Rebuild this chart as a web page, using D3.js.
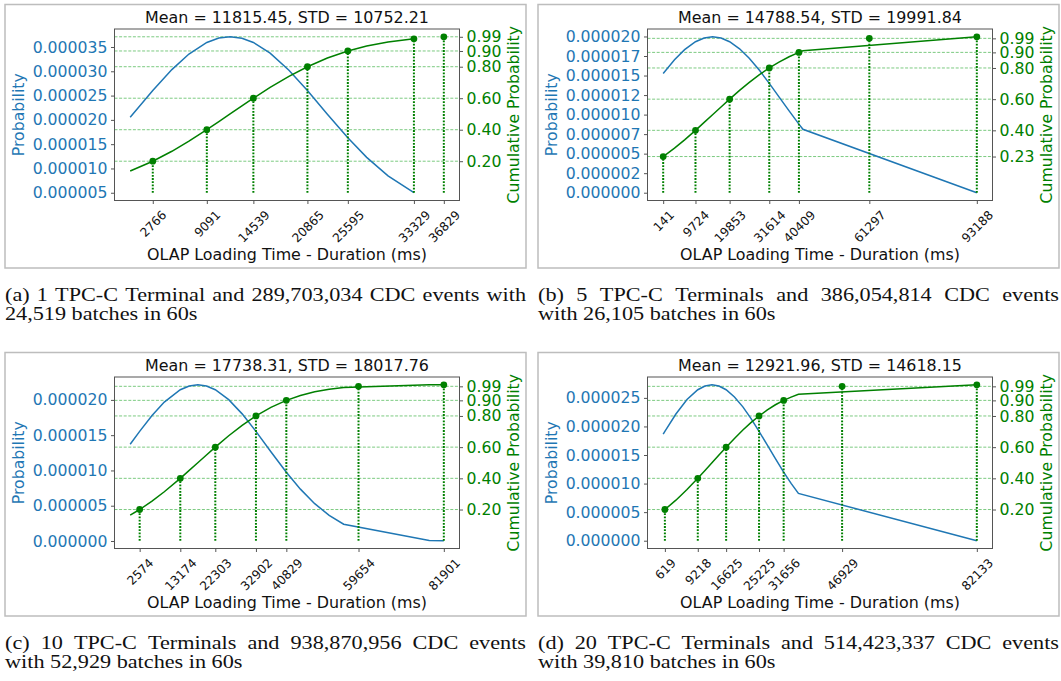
<!DOCTYPE html>
<html>
<head>
<meta charset="utf-8">
<script src="https://cdn.jsdelivr.net/npm/d3@7"></script>
<style>
body{margin:0;background:#fff}
text{font-family:"DejaVu Sans",sans-serif}
.cap text{font-family:"Liberation Serif",serif;font-size:19px;fill:#111}
</style>
</head>
<body>
<svg id="fig" width="1061" height="681"></svg>
<script>
// panel (a)
const titleA = "Mean = 11815.45, STD = 10752.21";
const xA   = [121, 2766, 5000, 7000, 9091, 10500, 11815, 13200, 14539, 16500, 18700, 20865, 23200, 25595, 27800, 30300, 33329];
const pdfA = [2.054e-5, 2.604e-5, 3.035e-5, 3.356e-5, 3.593e-5, 3.683e-5, 3.710e-5, 3.680e-5, 3.593e-5, 3.375e-5, 3.022e-5, 2.604e-5, 2.118e-5, 1.632e-5, 1.229e-5, 8.47e-6, 5.01e-6];
const cdfA = [0.138, 0.200, 0.263, 0.327, 0.400, 0.451, 0.500, 0.551, 0.600, 0.669, 0.739, 0.800, 0.855, 0.900, 0.931, 0.957, 0.977];
const qxA  = [2766, 9091, 14539, 20865, 25595, 33329, 36829];
const qpA  = [0.20, 0.40, 0.60, 0.80, 0.90, 0.977, 0.99];
const leftTicksA  = [5e-6, 1e-5, 1.5e-5, 2e-5, 2.5e-5, 3e-5, 3.5e-5];
const leftLabelsA = ["0.000005","0.000010","0.000015","0.000020","0.000025","0.000030","0.000035"];
const rightTicksA  = [0.20, 0.40, 0.60, 0.80, 0.90, 0.99];
const rightLabelsA = ["0.20","0.40","0.60","0.80","0.90","0.99"];
const capA = ["(a) 1 TPC-C Terminal and 289,703,034 CDC events with", "24,519 batches in 60s"];

// panel (b)
const titleB = "Mean = 14788.54, STD = 19991.84";
const xB   = [141, 3500, 6500, 9724, 12300, 14788, 17300, 19853, 22800, 25600, 28700, 31614, 34500, 37500, 40409, 41600, 93188];
const pdfB = [1.526e-5, 1.701e-5, 1.831e-5, 1.933e-5, 1.980e-5, 1.996e-5, 1.980e-5, 1.933e-5, 1.842e-5, 1.724e-5, 1.567e-5, 1.400e-5, 1.227e-5, 1.047e-5, 8.78e-6, 8.12e-6, 0];
const cdfB = [0.232, 0.286, 0.339, 0.400, 0.451, 0.500, 0.550, 0.600, 0.656, 0.706, 0.757, 0.800, 0.838, 0.872, 0.900, 0.910, 1.000];
const qxB  = [141, 9724, 19853, 31614, 40409, 61297, 93188];
const qpB  = [0.232, 0.40, 0.60, 0.80, 0.90, 0.99, 1.00];
const leftTicksB  = [0, 2.5e-6, 5e-6, 7.5e-6, 1e-5, 1.25e-5, 1.5e-5, 1.75e-5, 2e-5];
const leftLabelsB = ["0.000000","0.000002","0.000005","0.000007","0.000010","0.000012","0.000015","0.000017","0.000020"];
const rightTicksB  = [0.232, 0.40, 0.60, 0.80, 0.90, 0.99];
const rightLabelsB = ["0.23","0.40","0.60","0.80","0.90","0.99"];
const capB = ["(b) 5 TPC-C Terminals and 386,054,814 CDC events", "with 26,105 batches in 60s"];

// panel (c)
const titleC = "Mean = 17738.31, STD = 18017.76";
const xC   = [103, 2574, 5800, 9000, 13174, 15500, 17738, 20000, 22303, 25800, 29300, 32902, 36800, 40829, 44500, 48230, 52000, 55780, 78100, 81901];
const pdfC = [1.371e-5, 1.554e-5, 1.778e-5, 1.969e-5, 2.144e-5, 2.197e-5, 2.214e-5, 2.197e-5, 2.144e-5, 2.003e-5, 1.802e-5, 1.554e-5, 1.265e-5, 9.74e-6, 7.35e-6, 5.29e-6, 3.63e-6, 2.38e-6, 8e-8, 4e-8];
const cdfC = [0.164, 0.200, 0.254, 0.314, 0.400, 0.451, 0.500, 0.550, 0.600, 0.673, 0.740, 0.800, 0.855, 0.900, 0.931, 0.955, 0.971, 0.983, 0.9996, 0.9998];
const qxC  = [2574, 13174, 22303, 32902, 40829, 59654, 81901];
const qpC  = [0.20, 0.40, 0.60, 0.80, 0.90, 0.99, 0.9998];
const leftTicksC  = [0, 5e-6, 1e-5, 1.5e-5, 2e-5];
const leftLabelsC = ["0.000000","0.000005","0.000010","0.000015","0.000020"];
const rightTicksC  = [0.20, 0.40, 0.60, 0.80, 0.90, 0.99];
const rightLabelsC = ["0.20","0.40","0.60","0.80","0.90","0.99"];
const capC = ["(c) 10 TPC-C Terminals and 938,870,956 CDC events", "with 52,929 batches in 60s"];

// panel (d)
const titleD = "Mean = 12921.96, STD = 14618.15";
const xD   = [175, 619, 3500, 6400, 9218, 11100, 12922, 14750, 16625, 18800, 21000, 23100, 25225, 27400, 29500, 31656, 33600, 35515, 82133];
const pdfD = [1.866e-5, 1.915e-5, 2.217e-5, 2.471e-5, 2.643e-5, 2.708e-5, 2.729e-5, 2.708e-5, 2.643e-5, 2.517e-5, 2.343e-5, 2.142e-5, 1.915e-5, 1.671e-5, 1.435e-5, 1.201e-5, 1.003e-5, 8.27e-6, 0];
const cdfD = [0.192, 0.200, 0.260, 0.328, 0.400, 0.450, 0.500, 0.550, 0.600, 0.656, 0.710, 0.757, 0.800, 0.839, 0.872, 0.900, 0.921, 0.939, 1.000];
const qxD  = [619, 9218, 16625, 25225, 31656, 46929, 82133];
const qpD  = [0.20, 0.40, 0.60, 0.80, 0.90, 0.99, 1.00];
const leftTicksD  = [0, 5e-6, 1e-5, 1.5e-5, 2e-5, 2.5e-5];
const leftLabelsD = ["0.000000","0.000005","0.000010","0.000015","0.000020","0.000025"];
const rightTicksD  = [0.20, 0.40, 0.60, 0.80, 0.90, 0.99];
const rightLabelsD = ["0.20","0.40","0.60","0.80","0.90","0.99"];
const capD = ["(d) 20 TPC-C Terminals and 514,423,337 CDC events", "with 39,810 batches in 60s"];

const xLabel = "OLAP Loading Time - Duration (ms)";

const panels = [
  {title:titleA, x:xA, pdf:pdfA, cdf:cdfA, qx:qxA, qp:qpA, lt:leftTicksA, ll:leftLabelsA, rt:rightTicksA, rl:rightLabelsA, cap:capA, dx:0,   dy:0},
  {title:titleB, x:xB, pdf:pdfB, cdf:cdfB, qx:qxB, qp:qpB, lt:leftTicksB, ll:leftLabelsB, rt:rightTicksB, rl:rightLabelsB, cap:capB, dx:533, dy:0},
  {title:titleC, x:xC, pdf:pdfC, cdf:cdfC, qx:qxC, qp:qpC, lt:leftTicksC, ll:leftLabelsC, rt:rightTicksC, rl:rightLabelsC, cap:capC, dx:0,   dy:348},
  {title:titleD, x:xD, pdf:pdfD, cdf:cdfD, qx:qxD, qp:qpD, lt:leftTicksD, ll:leftLabelsD, rt:rightTicksD, rl:rightLabelsD, cap:capD, dx:533, dy:348}
];

const svg = d3.select("#fig");
const blue = "#1f77b4", green = "#008000";
const L = 114.5, R = 459.5, T = 29, B = 200.5;
const fs = 15.7;

// matplotlib style 5% margins
function pad(lo, hi) { const s = hi - lo; return [lo - 0.05*s, hi + 0.05*s]; }

function justify(g, text, width, y) {
  const words = text.split(" ");
  const ts = words.map(w => g.append("text").attr("y", y).text(w));
  const ws = ts.map(t => t.node().getComputedTextLength());
  const gap = (width - d3.sum(ws)) / (words.length - 1);
  let x = 0;
  ts.forEach((t, i) => { t.attr("x", x); x += ws[i] + gap; });
}

panels.forEach(p => {
  const g = svg.append("g").attr("transform", `translate(${p.dx},${p.dy})`);

  g.append("rect").attr("x", 5).attr("y", 4.5).attr("width", 521).attr("height", 263.5)
    .attr("fill", "none").attr("stroke", "#bdbdbd").attr("stroke-width", 1.5);

  const x = d3.scaleLinear().domain(pad(d3.min(p.x), d3.max(p.qx.concat(p.x)))).range([L, R]);
  const yL = d3.scaleLinear().domain(pad(d3.min(p.pdf), d3.max(p.pdf))).range([B, T]);
  const yR = d3.scaleLinear().domain(pad(0, d3.max(p.qp.concat(p.cdf)))).range([B, T]);

  // dashed guide lines at the quantile levels
  g.selectAll(".hl").data(p.rt).join("line")
    .attr("x1", L).attr("x2", R).attr("y1", d => yR(d)).attr("y2", d => yR(d))
    .attr("stroke", "#3cb043").attr("stroke-opacity", 0.75).attr("stroke-width", 0.9)
    .attr("stroke-dasharray", "3,1.6");

  // pdf
  g.append("path").datum(d3.zip(p.x, p.pdf))
    .attr("d", d3.line().x(d => x(d[0])).y(d => yL(d[1])))
    .attr("fill", "none").attr("stroke", blue).attr("stroke-width", 1.5);

  // cdf
  g.append("path").datum(d3.zip(p.x, p.cdf))
    .attr("d", d3.line().x(d => x(d[0])).y(d => yR(d[1])))
    .attr("fill", "none").attr("stroke", green).attr("stroke-width", 1.5);

  const q = d3.zip(p.qx, p.qp);
  g.selectAll(".vl").data(q).join("line")
    .attr("x1", d => x(d[0])).attr("x2", d => x(d[0]))
    .attr("y1", yR(0)).attr("y2", d => yR(d[1]))
    .attr("stroke", green).attr("stroke-width", 2).attr("stroke-dasharray", "1.8,1.4");
  g.selectAll(".dot").data(q).join("circle")
    .attr("cx", d => x(d[0])).attr("cy", d => yR(d[1])).attr("r", 3.4)
    .attr("fill", green);

  // frame
  g.append("rect").attr("x", L).attr("y", T).attr("width", R - L).attr("height", B - T)
    .attr("fill", "none").attr("stroke", "#555").attr("stroke-width", 1);

  // left axis
  const ax1 = g.append("g").attr("transform", `translate(${L},0)`)
    .call(d3.axisLeft(yL).tickValues(p.lt).tickFormat((d, i) => p.ll[i]).tickSize(3.5).tickPadding(3.5));
  ax1.select(".domain").remove();
  ax1.selectAll("line").attr("stroke", "#555");
  ax1.selectAll("text").attr("fill", blue).style("font-size", fs + "px");

  // right axis
  const ax2 = g.append("g").attr("transform", `translate(${R},0)`)
    .call(d3.axisRight(yR).tickValues(p.rt).tickFormat((d, i) => p.rl[i]).tickSize(3.5).tickPadding(3.5));
  ax2.select(".domain").remove();
  ax2.selectAll("line").attr("stroke", "#555");
  ax2.selectAll("text").attr("fill", green).style("font-size", fs + "px");

  // bottom axis, rotated labels centred under the tick
  const ax3 = g.append("g").attr("transform", `translate(0,${B})`)
    .call(d3.axisBottom(x).tickValues(p.qx).tickFormat(d3.format("d")).tickSize(3.5));
  ax3.select(".domain").remove();
  ax3.selectAll("line").attr("stroke", "#555");
  ax3.selectAll("text").style("font-size", "12.2px").attr("fill", "#111")
    .attr("y", 0).attr("dy", "0.35em").attr("text-anchor", "middle")
    .attr("transform", function() {
      const len = this.getComputedTextLength();
      const off = (len + 12) / (2 * Math.SQRT2);
      return `translate(0,${8 + off}) rotate(-45)`;
    });

  g.append("text").attr("x", (L + R) / 2).attr("y", T - 6).attr("text-anchor", "middle")
    .style("font-size", "15.9px").attr("fill", "#111").text(p.title);
  g.append("text").attr("x", (L + R) / 2).attr("y", 260).attr("text-anchor", "middle")
    .style("font-size", "15.9px").attr("fill", "#111").text(xLabel);
  g.append("text").attr("transform", `translate(23.5,${(T + B) / 2}) rotate(-90)`)
    .attr("text-anchor", "middle").style("font-size", fs + "px").attr("fill", blue).text("Probability");
  g.append("text").attr("transform", `translate(519,${(T + B) / 2}) rotate(-90)`)
    .attr("text-anchor", "middle").style("font-size", fs + "px").attr("fill", green).text("Cumulative Probability");

  // caption
  const sx = 1.17;
  const cg = g.append("g").attr("class", "cap").attr("transform", `translate(5,301) scale(${sx},1)`);
  justify(cg, p.cap[0], 521 / sx, 0);
  cg.append("text").attr("x", 0).attr("y", 19).text(p.cap[1]);
});
</script>
</body>
</html>
